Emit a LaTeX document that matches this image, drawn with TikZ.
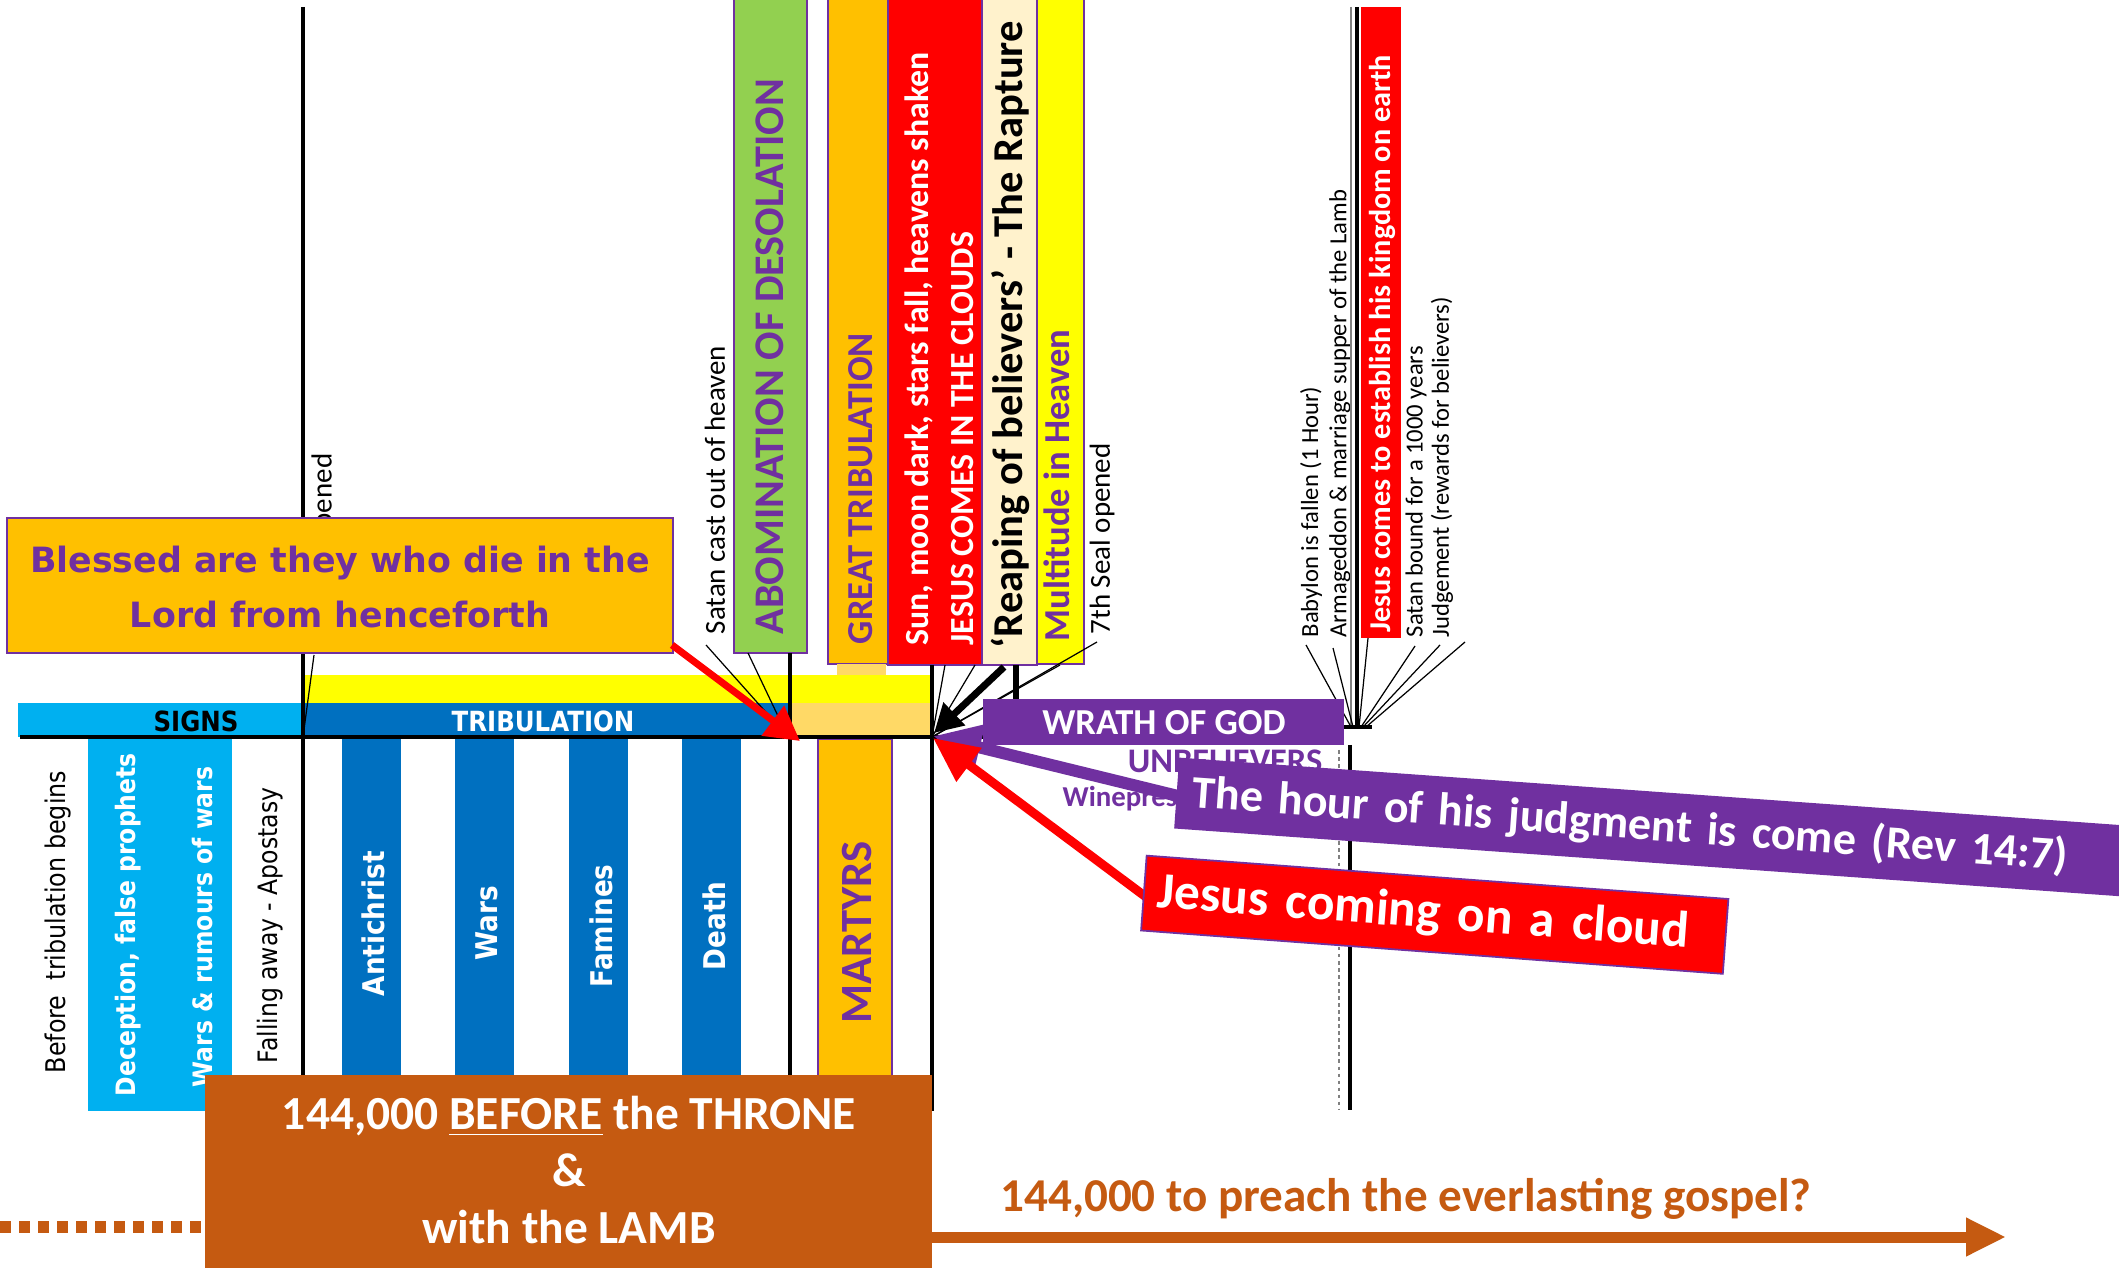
\documentclass[tikz,border=0pt]{standalone}
\usepackage{fontspec}
\setmainfont{Carlito}
\newfontfamily\verd{DejaVu Sans}
\newfontfamily\taho[FakeStretch=0.88]{DejaVu Sans}
\usetikzlibrary{arrows.meta,fit,calc}
\definecolor{pur}{HTML}{7030A0}
\definecolor{gold}{HTML}{FFC000}
\definecolor{grn}{HTML}{92D050}
\definecolor{cream}{HTML}{FFF2CC}
\definecolor{yel}{HTML}{FFFF00}
\definecolor{lblue}{HTML}{00B0F0}
\definecolor{dblue}{HTML}{0070C0}
\definecolor{lorange}{HTML}{FFD966}
\definecolor{borange}{HTML}{C55A11}
\definecolor{rd}{HTML}{FF0000}
\tikzset{
  boxp/.style={draw=pur, line width=0.5pt, inner sep=0pt},
  boxn/.style={inner sep=0pt},
  rtx/.style={rotate=90, anchor=west, inner sep=0pt},
  rtxe/.style={rotate=90, anchor=east, inner sep=0pt},
  leader/.style={black, line width=0.35pt},
  vline/.style={black, line width=0.9pt},
  small/.style={font=\fontsize{8.25}{9}\selectfont},
  tiny/.style={font=\fontsize{7}{8}\selectfont},
}
\begin{document}
\begin{tikzpicture}[x=0.01cm,y=-0.01cm]
\path[use as bounding box, fill=white] (0,0) rectangle (2119,1268);

% ---------- top vertical boxes ----------
\node[boxp, fill=grn, fit={(734,-5) (807,653)}] (abom) {};
\node[boxp, fill=gold, fit={(828,-5) (888,664)}] (gt) {};
\node[boxn, fill=lorange, fit={(837,664) (886,675)}] (stub) {};
\node[boxp, fill=rd, fit={(888,-5) (982,665)}] (sun) {};
\node[boxp, fill=cream, fit={(982,-5) (1037,665)}] (reap) {};
\node[boxp, fill=yel, fit={(1037,-5) (1084,664)}] (mult) {};
\node[boxn, fill=rd, fit={(1361,7) (1401,638)}] (est) {};

\node[rtx, text=pur, font=\bfseries\fontsize{12}{12}\selectfont] (abomt) at (770,635) {ABOMINATION OF DESOLATION};
\node[rtx, text=pur, font=\bfseries\fontsize{10.4}{12}\selectfont] (gtt) at (861,645) {GREAT TRIBULATION};
\node[rtx, text=white, font=\bfseries\fontsize{9.6}{12}\selectfont] (sun1) at (919,646) {Sun, moon dark, stars fall, heavens shaken};
\node[rtx, text=white, font=\bfseries\fontsize{9.6}{12}\selectfont] (sun2) at (963,646) {JESUS COMES IN THE CLOUDS};
\node[rtx, text=black, font=\bfseries\fontsize{12.1}{14}\selectfont] (reapt) at (1010,649) {‘Reaping of believers’ - The Rapture};
\node[rtx, text=pur, font=\bfseries\fontsize{10.4}{12}\selectfont] (multt) at (1057,642) {Multitude in Heaven};
\node[rtx, text=white, font=\bfseries\fontsize{8.6}{10}\selectfont] (estt) at (1382,633) {Jesus comes to establish his kingdom on earth};

% small labels
\node[rtx, small] (satan) at (715,635) {Satan cast out of heaven};
\node[rtx, small] (seal7) at (1102,635) {7th Seal opened};
\node[rtxe, small] (opened) at (324,453) {opened};
\node[rtx, tiny] (baby) at (1311,638) {Babylon is fallen (1 Hour)};
\node[rtx, tiny] (arma) at (1340,638) {Armageddon \& marriage supper of the Lamb};
\node[rtx, tiny] (sbound) at (1416,638) {Satan bound for a 1000 years};
\node[rtx, tiny] (judg) at (1442,638) {Judgement (rewards for believers)};

% ---------- bars ----------
\node[boxn, fill=yel, fit={(305,675) (932,703)}] (yelbar) {};
\node[boxn, fill=lblue, fit={(18,703) (303,737)}] (signs) {};
\node[boxn, fill=dblue, fit={(303,703) (790,737)}] (trib) {};
\node[boxn, fill=lorange, fit={(790,703) (932,737)}] (lor) {};
\node[boxn, font=\taho\bfseries\fontsize{7.9}{9}\selectfont, text=black] (signst) at (196,721) {SIGNS};
\node[boxn, font=\taho\bfseries\fontsize{7.9}{9}\selectfont, text=white] (tribt) at (543,721) {TRIBULATION};

% ---------- columns ----------
\node[boxn, fill=lblue, fit={(88,739) (232,1111)}] (lbcol) {};
\node[boxn, fill=dblue, fit={(342,739) (401,1080)}] (anti) {};
\node[boxn, fill=dblue, fit={(455,739) (514,1080)}] (wars) {};
\node[boxn, fill=dblue, fit={(569,739) (628,1080)}] (fam) {};
\node[boxn, fill=dblue, fit={(682,739) (741,1080)}] (death) {};
\node[boxp, fill=gold, fit={(818,739) (892,1077)}] (mart) {};

\node[rtx, font=\taho\fontsize{7.7}{9}\selectfont] (before) at (58,1074) {Before~ tribulation begins};
\node[rtx, font=\taho\bfseries\fontsize{7.6}{9}\selectfont, text=white] (decep) at (128,1097) {Deception, false prophets};
\node[rtx, font=\taho\bfseries\fontsize{7.6}{9}\selectfont, text=white] (rumour) at (203,1088) {Wars \& rumours of wars};
\node[rtx, font=\taho\fontsize{7.6}{9}\selectfont] (fall) at (270,1064) {Falling away - Apostasy};
\node[rtx, font=\taho\bfseries\fontsize{8.5}{9}\selectfont, text=white] (antit) at (373,997) {Antichrist};
\node[rtx, font=\taho\bfseries\fontsize{8.5}{9}\selectfont, text=white] (warst) at (487,961) {Wars};
\node[rtx, font=\taho\bfseries\fontsize{8.5}{9}\selectfont, text=white] (famt) at (601,988) {Famines};
\node[rtx, font=\taho\bfseries\fontsize{8.5}{9}\selectfont, text=white] (deatht) at (714,971) {Death};
\node[rtx, font=\bfseries\fontsize{12.7}{14}\selectfont, text=pur] (martt) at (857,1024) {MARTYRS};

% ---------- vertical lines & leaders ----------
\coordinate (J1) at (303,737);
\coordinate (J2) at (788,737);
\coordinate (J3) at (932,737);
\coordinate (J4) at (1357,727);
\draw[vline] (303,7) -- (303,1075);
\draw[vline] (790,653) -- (790,1075);
\draw[vline] (932,665) -- (932,1111);
\draw[black, line width=0.9pt] (1357,7) -- (J4);
\draw[gray, line width=0.5pt] (1351,7) -- (1351,727);
\draw[black, line width=0.9pt] (1350,745) -- (1350,1110);
\draw[gray, line width=0.6pt, dash pattern=on 1pt off 1pt] (1339,750) -- (1339,1110);
\draw[black, line width=1.2pt] (20,737) -- (983,737);
\draw[black, line width=1.2pt] (1344,727) -- (1372,727);

\coordinate (opl) at (314,655);
\draw[leader] (opl) -- (J1);
\coordinate (sal) at (706,645);
\coordinate (abl) at (748,653);
\draw[leader] (sal) -- (J2);
\draw[leader] (abl) -- (J2);
\coordinate (f1) at (945,665);
\coordinate (f2) at (975,665);
\coordinate (f3) at (1060,665);
\coordinate (f4) at (1097,642);
\foreach \p in {f1,f2,f3,f4} \draw[leader] (\p) -- (J3);
\coordinate (g1) at (1306,645);
\coordinate (g2) at (1333,648);
\coordinate (g3) at (1368,638);
\coordinate (g4) at (1415,646);
\coordinate (g5) at (1440,645);
\coordinate (g6) at (1465,642);
\draw[leader] (g1) -- (1351,727);
\draw[leader] (g2) -- (1353,727);
\draw[leader] (g3) -- (1359,727);
\draw[leader] (g4) -- (1361,727);
\draw[leader] (g5) -- (1363,727);
\draw[leader] (g6) -- (1366,727);

% ---------- blessed box ----------
\node[boxp, fill=gold, fit={(7,518) (673,653)}] (blessed) {};
\node[boxn, align=center, text=pur, font=\verd\bfseries\fontsize{9.9}{15.6}\selectfont] (blessedt) at (340,587) {Blessed are they who die in the\\Lord from henceforth};

% ---------- 144,000 box ----------
\node[boxn, fill=borange, fit={(205,1075) (932,1272)}] (throne) {};
\node[boxn, align=center, text=white, font=\bfseries\fontsize{13.5}{16.3}\selectfont] (thronet) at (569,1170) {144,000 \underline{BEFORE} the THRONE\\\&\\with the LAMB};
\coordinate (dotS) at (0,1227);
\coordinate (dotE) at (204,1227);
\draw[borange, line width=0.12cm, dash pattern=on 0.11cm off 0.08cm] (dotS) -- (dotE);
\coordinate (arS) at (932,1237);
\coordinate (arE) at (2006,1237);
\draw[borange, line width=0.11cm, -{Triangle[length=0.40cm,width=0.36cm]}] (arS) -- (arE);
\node[boxn, text=borange, font=\bfseries\fontsize{13.4}{15}\selectfont] (preach) at (1406,1199) {144,000 to preach the everlasting gospel?};

% ---------- wrath ----------
\node[boxn, fill=pur, fit={(983,699) (1344,745)}] (wrath) {};
\node[boxn, text=white, font=\bfseries\fontsize{10.4}{12}\selectfont] (wratht) at (1164,723) {WRATH OF GOD};
\node[boxn, text=pur, font=\bfseries\fontsize{9.8}{12}\selectfont] (unbel) at (1225,761) {UNBELIEVERS};
\node[boxn, anchor=west, text=pur, font=\bfseries\fontsize{8.2}{10}\selectfont] (wine) at (1062,799) {Winepress};

% ---------- arrows ----------
\coordinate (r1s) at (672,645);
\coordinate (r1e) at (800,741);
\draw[rd, line width=0.07cm, -{Triangle[length=0.34cm,width=0.36cm]}] (r1s) -- (r1e);
\coordinate (bks) at (1004,667);
\coordinate (bke) at (934,733);
\draw[black, line width=0.07cm, -{Triangle[length=0.28cm,width=0.30cm]}] (bks) -- (bke);
\draw[black, line width=0.06cm] (1016,665) -- (1016,699);

\node[fill=pur, rotate=-4.1, anchor=west, minimum height=0.71cm, text width=9.6cm, inner xsep=0.16cm, inner ysep=0pt, align=left, text=white, font=\bfseries\fontsize{13.1}{15}\selectfont] (hour) at (1176,793) {The hour of his judgment is come (Rev 14:7)};
\coordinate (pus) at (1182,797);
\coordinate (pue) at (933,736);
\draw[pur, line width=0.12cm, -{Triangle[length=0.48cm,width=0.44cm]}] (pus) -- (pue);

\coordinate (r2s) at (1146,897);
\coordinate (r2e) at (933,738);
\draw[rd, line width=0.09cm, -{Triangle[length=0.45cm,width=0.40cm]}] (r2s) -- (r2e);
\node[fill=rd, draw=pur, line width=0.5pt, rotate=-4.26, anchor=west, minimum height=0.75cm, text width=5.55cm, inner xsep=0.14cm, inner ysep=0pt, align=left, text=white, font=\bfseries\fontsize{14.6}{17}\selectfont] (cloud) at (1143,893) {Jesus coming on a cloud};
\end{tikzpicture}
\end{document}
